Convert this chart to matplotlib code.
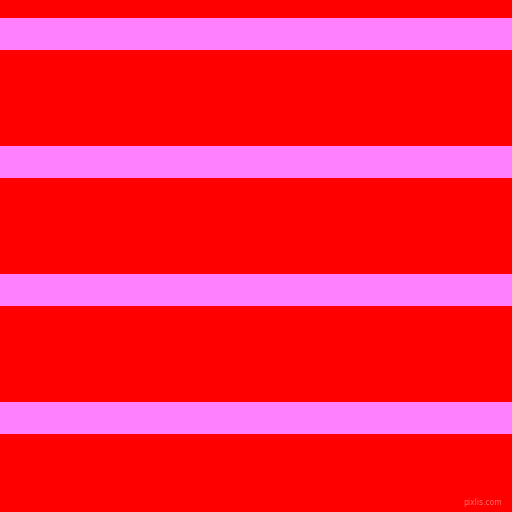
import matplotlib
matplotlib.use('Agg')
import matplotlib.pyplot as plt

# stripe layout (pixel rows, top = 0)
STRIPE_TOPS = [18, 146, 274, 402]
STRIPE_HEIGHTS = [32, 32, 32, 32]
BG = '#FF0000'
STRIPE = '#FF80FF'

fig = plt.figure(figsize=(5.12, 5.12), dpi=100)
ax = fig.add_axes([0, 0, 1, 1])
ax.set_facecolor(BG)
fig.patch.set_facecolor(BG)
ax.barh(STRIPE_TOPS, [512] * len(STRIPE_TOPS), height=STRIPE_HEIGHTS,
        left=0, align='edge', color=STRIPE, lw=0)
ax.set_xlim(0, 512)
ax.set_ylim(512, 0)
ax.axis('off')

ax.text(502, 507, 'pixlis.com', fontsize=5.5, color='#FF6A6A',
        ha='right', va='bottom')

fig.savefig('out.png', dpi=100, facecolor=BG)
